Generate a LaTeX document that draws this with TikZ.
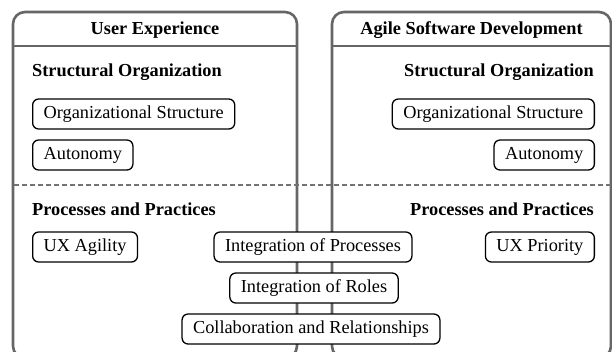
\documentclass[tikz,border=0pt]{standalone}
\usepackage{fontspec}
\setmainfont{Liberation Serif}
\usetikzlibrary{positioning}
\begin{document}
\begin{tikzpicture}[x=1pt,y=-1pt,
  panel/.style={draw=black!60, line width=2.6pt, rounded corners=12pt},
  headtitle/.style={font=\fontsize{18.3}{21}\selectfont\bfseries, inner sep=0pt},
  section/.style={font=\fontsize{18.3}{21}\selectfont\bfseries, inner sep=0pt},
  tag/.style={draw=black, fill=white, line width=1.3pt, rounded corners=6pt,
    font=\fontsize{18.3}{21}\selectfont, inner xsep=11pt, inner ysep=0pt,
    minimum height=30pt},
  divider/.style={draw=black!55, line width=1.6pt, dash pattern=on 5pt off 3pt}
]
\useasboundingbox (0,0) rectangle (612,351);
\clip (0,0) rectangle (612,351);

% two panels with their header bars
\draw[panel] (13,12) rectangle (297,358);
\draw[black!60, line width=2.6pt] (13,46) -- (297,46);
\draw[panel] (332,12) rectangle (611,358);
\draw[black!60, line width=2.6pt] (332,46) -- (611,46);

\node[headtitle] (ux) at (155,30) {User Experience};
\node[headtitle] (asd) at (471.5,30) {Agile Software Development};

% dashed line between the two groups of themes
\coordinate (dl) at (14,185);
\coordinate (dr) at (611,185);
\draw[divider] (dl) -- (dr);

% left panel
\node[section, anchor=west] (so1) at (32,72) {Structural Organization};
\node[tag, anchor=west] (os1) at (32,114) {Organizational Structure};
\node[tag, anchor=west] (au1) at (32,155) {Autonomy};
\node[section, anchor=west] (pp1) at (32,209) {Processes and Practices};
\node[tag, anchor=west] (uxa) at (32,247) {UX Agility};

% right panel
\node[section, anchor=east] (so2) at (594,72) {Structural Organization};
\node[tag, anchor=east] (os2) at (595,114) {Organizational Structure};
\node[tag, anchor=east] (au2) at (595,155) {Autonomy};
\node[section, anchor=east] (pp2) at (594,209) {Processes and Practices};
\node[tag, anchor=east] (uxp) at (595,247) {UX Priority};

% shared themes spanning both panels
\node[tag] (ip) at (313,247) {Integration of Processes};
\node[tag] (ir) at (314,288) {Integration of Roles};
\node[tag] (cr) at (311,329) {Collaboration and Relationships};
\end{tikzpicture}
\end{document}
